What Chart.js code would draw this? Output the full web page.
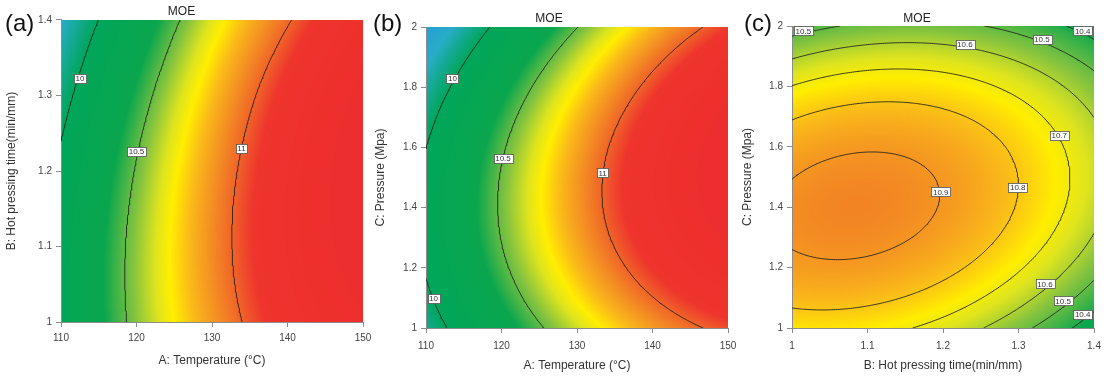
<!DOCTYPE html>
<html>
<head>
<meta charset="utf-8">
<script src="https://cdn.jsdelivr.net/npm/chart.js@4.4.1/dist/chart.umd.min.js"></script>
<style>
  body { margin: 0; background: #fff; }
  #wrap { position: relative; width: 1109px; height: 376px; }
  canvas { position: absolute; top: 0; }
</style>
</head>
<body>
<div id="wrap">
  <canvas id="chartA" width="380" height="376" style="left:0px"></canvas>
  <canvas id="chartB" width="370" height="376" style="left:370px"></canvas>
  <canvas id="chartC" width="369" height="376" style="left:740px"></canvas>
</div>
<script>
// axis ticks
var tempTicks = [110, 120, 130, 140, 150];
var timeTicks = [1, 1.1, 1.2, 1.3, 1.4];
var pressTicks = [1, 1.2, 1.4, 1.6, 1.8, 2];

var tempNodes = [110, 120, 130, 140, 150];
var timeNodes = [1.0, 1.1, 1.2, 1.3, 1.4];
var pressNodes = [1.0, 1.25, 1.5, 1.75, 2.0];

// (a) rows = hot pressing time (1.0 -> 1.4), cols = temperature
var moeA = [
  [10.120, 10.550, 10.889, 11.139, 11.298],
  [10.110, 10.560, 10.920, 11.190, 11.369],
  [10.043, 10.513, 10.893, 11.183, 11.383],
  [9.918, 10.408, 10.809, 11.119, 11.339],
  [9.736, 10.247, 10.667, 10.985, 11.230]
];
// (b) rows = pressure (1.0 -> 2.0), cols = temperature
var moeB = [
  [9.872, 10.299, 10.637, 10.884, 11.042],
  [10.038, 10.487, 10.846, 11.115, 11.293],
  [10.042, 10.512, 10.892, 11.182, 11.382],
  [9.883, 10.374, 10.775, 11.086, 11.308],
  [9.560, 10.073, 10.495, 10.828, 11.070]
];
// (c) rows = pressure (1.0 -> 2.0), cols = hot pressing time
var moeC = [
  [10.745, 10.735, 10.664, 10.531, 10.338],
  [10.897, 10.905, 10.853, 10.740, 10.566],
  [10.898, 10.926, 10.893, 10.799, 10.644],
  [10.750, 10.797, 10.783, 10.708, 10.572],
  [10.451, 10.517, 10.523, 10.467, 10.350]
];

var levelsA = [10, 10.5, 11];
var levelsB = [10, 10.5, 11];
var levelsC = [10.4, 10.5, 10.6, 10.7, 10.8, 10.9];

var labelXA = [112.5, 120.0, 133.9];
var labelYA = [1.323, 1.226, 1.23];
var labelTextA = ['10', '10.5', '11'];

var labelXB = [113.5, 120.2, 133.4, 111.0];
var labelYB = [1.829, 1.563, 1.515, 1.099];
var labelTextB = ['10', '10.5', '11', '10'];

var labelXC = [1.015, 1.229, 1.331, 1.385, 1.354, 1.197, 1.299, 1.335, 1.359, 1.385];
var labelYC = [1.984, 1.939, 1.956, 1.984, 1.639, 1.451, 1.466, 1.146, 1.090, 1.046];
var labelTextC = ['10.5', '10.6', '10.5', '10.4', '10.7', '10.9', '10.8', '10.6', '10.5', '10.4'];

var FONT = "'Liberation Sans', Arial, sans-serif";

// blue - green - yellow - red palette
var heatStops = [
  [9.50, [35, 155, 220]],
  [9.75, [40, 172, 200]],
  [10.0, [0, 166, 90]],
  [10.38, [10, 166, 78]],
  [10.55, [135, 196, 62]],
  [10.66, [222, 228, 30]],
  [10.73, [255, 238, 0]],
  [10.82, [250, 186, 25]],
  [10.92, [243, 140, 35]],
  [11.0, [240, 100, 40]],
  [11.08, [238, 52, 45]],
  [11.5, [237, 42, 46]]
];

function colorAt(v) {
  if (v <= heatStops[0][0]) return heatStops[0][1];
  for (var i = 1; i < heatStops.length; i++) {
    if (v <= heatStops[i][0]) {
      var a = heatStops[i - 1], b = heatStops[i];
      var t = (v - a[0]) / (b[0] - a[0]);
      return [0, 1, 2].map(function (k) { return a[1][k] + (b[1][k] - a[1][k]) * t; });
    }
  }
  return heatStops[heatStops.length - 1][1];
}

// smooth surface through the grid (catmull-rom both ways)
function padRow(r) {
  var n = r.length;
  return [3 * r[0] - 3 * r[1] + r[2]].concat(r, [3 * r[n - 1] - 3 * r[n - 2] + r[n - 3]]);
}
function padGrid(g) {
  var rows = g.map(padRow);
  var n = rows.length;
  var first = rows[0].map(function (v, j) { return 3 * v - 3 * rows[1][j] + rows[2][j]; });
  var last = rows[n - 1].map(function (v, j) { return 3 * v - 3 * rows[n - 2][j] + rows[n - 3][j]; });
  return [first].concat(rows, [last]);
}
function cr(p0, p1, p2, p3, t) {
  return 0.5 * (2 * p1 + (p2 - p0) * t + (2 * p0 - 5 * p1 + 4 * p2 - p3) * t * t +
    (3 * p1 - p0 - 3 * p2 + p3) * t * t * t);
}
function makeSurface(xNodes, yNodes, grid) {
  var P = padGrid(grid);
  var nx = xNodes.length, ny = yNodes.length;
  var dx = xNodes[1] - xNodes[0], dy = yNodes[1] - yNodes[0];
  return function (x, y) {
    var u = (x - xNodes[0]) / dx, v = (y - yNodes[0]) / dy;
    var i = Math.min(Math.max(Math.floor(u), 0), nx - 2);
    var j = Math.min(Math.max(Math.floor(v), 0), ny - 2);
    var t = u - i, s = v - j;
    var col = [];
    for (var k = 0; k < 4; k++) {
      var row = P[j + k];
      col.push(cr(row[i], row[i + 1], row[i + 2], row[i + 3], t));
    }
    return cr(col[0], col[1], col[2], col[3], s);
  };
}

// marching squares, chained into polylines
function contourLines(f, xr, yr, level, N) {
  var gx = [], gy = [], v = [], i, j;
  for (i = 0; i <= N; i++) {
    gx.push(xr[0] + (xr[1] - xr[0]) * i / N);
    gy.push(yr[0] + (yr[1] - yr[0]) * i / N);
  }
  for (j = 0; j <= N; j++) {
    v.push([]);
    for (i = 0; i <= N; i++) v[j].push(f(gx[i], gy[j]));
  }
  var pts = {}, adj = {};
  function edgePt(key, xa, ya, va, xb, yb, vb) {
    if (!pts[key]) {
      var t = (level - va) / (vb - va);
      pts[key] = { x: xa + (xb - xa) * t, y: ya + (yb - ya) * t };
    }
    return key;
  }
  function link(a, b) {
    (adj[a] = adj[a] || []).push(b);
    (adj[b] = adj[b] || []).push(a);
  }
  for (j = 0; j < N; j++) {
    for (i = 0; i < N; i++) {
      var v00 = v[j][i], v10 = v[j][i + 1], v01 = v[j + 1][i], v11 = v[j + 1][i + 1];
      var e = [];
      if ((v00 >= level) !== (v10 >= level)) e.push(edgePt('h' + i + '_' + j, gx[i], gy[j], v00, gx[i + 1], gy[j], v10));
      if ((v10 >= level) !== (v11 >= level)) e.push(edgePt('v' + (i + 1) + '_' + j, gx[i + 1], gy[j], v10, gx[i + 1], gy[j + 1], v11));
      if ((v01 >= level) !== (v11 >= level)) e.push(edgePt('h' + i + '_' + (j + 1), gx[i], gy[j + 1], v01, gx[i + 1], gy[j + 1], v11));
      if ((v00 >= level) !== (v01 >= level)) e.push(edgePt('v' + i + '_' + j, gx[i], gy[j], v00, gx[i], gy[j + 1], v01));
      if (e.length === 2) link(e[0], e[1]);
      else if (e.length === 4) { link(e[0], e[1]); link(e[2], e[3]); }
    }
  }
  var seen = {}, lines = [];
  function walk(s) {
    var line = [pts[s]], cur = s;
    seen[s] = true;
    for (;;) {
      var nb = (adj[cur] || []).filter(function (k) { return !seen[k]; });
      if (!nb.length) break;
      cur = nb[0];
      seen[cur] = true;
      line.push(pts[cur]);
    }
    if (line.length > 2 && adj[cur].indexOf(s) >= 0) line.push(pts[s]);
    return line;
  }
  Object.keys(adj).forEach(function (k) { if (!seen[k] && adj[k].length === 1) lines.push(walk(k)); });
  Object.keys(adj).forEach(function (k) { if (!seen[k]) lines.push(walk(k)); });
  return lines;
}

function makePanel(id, p) {
  var canvas = document.getElementById(id);
  var W = canvas.width, H = canvas.height;
  var surf = makeSurface(p.xNodes, p.yNodes, p.grid);

  var lineData = [];
  p.levels.forEach(function (lv) {
    contourLines(surf, [p.xMin, p.xMax], [p.yMin, p.yMax], lv, 160).forEach(function (line) {
      line.forEach(function (pt) { lineData.push({ x: pt.x, y: pt.y }); });
      lineData.push({ x: null, y: null });
    });
  });

  var heat = {
    id: 'heat',
    beforeDraw: function (chart) {
      var a = chart.chartArea, xs = chart.scales.x, ys = chart.scales.y;
      var w = Math.round(a.right - a.left), h = Math.round(a.bottom - a.top);
      var off = document.createElement('canvas');
      off.width = w; off.height = h;
      var octx = off.getContext('2d');
      var img = octx.createImageData(w, h);
      for (var py = 0; py < h; py++) {
        var y = ys.getValueForPixel(a.top + py + 0.5);
        for (var px = 0; px < w; px++) {
          var x = xs.getValueForPixel(a.left + px + 0.5);
          var c = colorAt(surf(x, y));
          var o = (py * w + px) * 4;
          img.data[o] = c[0]; img.data[o + 1] = c[1]; img.data[o + 2] = c[2]; img.data[o + 3] = 255;
        }
      }
      octx.putImageData(img, 0, 0);
      chart.ctx.drawImage(off, a.left, a.top);
    }
  };

  var tags = {
    id: 'tags',
    afterDatasetsDraw: function (chart) {
      var ctx = chart.ctx, xs = chart.scales.x, ys = chart.scales.y;
      ctx.save();
      ctx.font = '8px ' + FONT;
      ctx.textAlign = 'center';
      ctx.textBaseline = 'middle';
      for (var i = 0; i < p.labelText.length; i++) {
        var x = xs.getPixelForValue(p.labelX[i]), y = ys.getPixelForValue(p.labelY[i]);
        var tw = ctx.measureText(p.labelText[i]).width + 3;
        ctx.fillStyle = '#fff';
        ctx.fillRect(Math.round(x - tw / 2) + 0.5, Math.round(y - 4.5) + 0.5, Math.round(tw), 9);
        ctx.strokeStyle = '#555';
        ctx.lineWidth = 0.8;
        ctx.strokeRect(Math.round(x - tw / 2) + 0.5, Math.round(y - 4.5) + 0.5, Math.round(tw), 9);
        ctx.fillStyle = '#333';
        ctx.fillText(p.labelText[i], x, y + 0.5);
      }
      ctx.restore();
    },
    afterDraw: function (chart) {
      var ctx = chart.ctx;
      ctx.save();
      ctx.font = '24px ' + FONT;
      ctx.fillStyle = '#111';
      ctx.textBaseline = 'middle';
      ctx.fillText(p.tag, p.tagX, 24);
      ctx.restore();
    }
  };

  var axisColor = '#8c8c8c';
  return new Chart(canvas, {
    type: 'scatter',
    data: {
      datasets: [{
        data: lineData,
        showLine: true,
        spanGaps: false,
        pointRadius: 0,
        borderColor: 'rgba(30,30,30,0.85)',
        borderWidth: 1,
        tension: 0
      }]
    },
    options: {
      responsive: false,
      animation: false,
      events: [],
      layout: { padding: { left: 0, top: 0, bottom: 0, right: W - p.area.right } },
      plugins: {
        legend: { display: false },
        tooltip: { enabled: false },
        title: {
          display: true,
          text: 'MOE',
          color: '#222',
          font: { family: FONT, size: 12, weight: 'normal' },
          padding: { top: p.titleTop, bottom: p.area.top - p.titleTop - 14.4 }
        }
      },
      scales: {
        x: {
          type: 'linear',
          min: p.xMin,
          max: p.xMax,
          afterBuildTicks: function (s) { s.ticks = p.xTicks.map(function (v) { return { value: v }; }); },
          afterFit: function (s) { s.height = H - p.area.bottom; s.paddingLeft = 0; s.paddingRight = 0; },
          ticks: {
            color: '#444',
            font: { family: FONT, size: 10 },
            padding: p.xTickPad,
            maxRotation: 0,
            callback: function (v) { return String(Math.round(v * 100) / 100); }
          },
          grid: { display: true, drawOnChartArea: false, drawTicks: true, tickLength: 5, color: axisColor },
          border: { display: true, color: axisColor },
          title: {
            display: true,
            text: p.xTitle,
            color: '#333',
            font: { family: FONT, size: 12 },
            padding: { top: 0, bottom: p.xTitleBottom }
          }
        },
        y: {
          type: 'linear',
          min: p.yMin,
          max: p.yMax,
          afterBuildTicks: function (s) { s.ticks = p.yTicks.map(function (v) { return { value: v }; }); },
          afterFit: function (s) { s.width = p.area.left; s.paddingTop = 0; s.paddingBottom = 0; },
          ticks: {
            color: '#444',
            font: { family: FONT, size: 10 },
            padding: 4,
            callback: function (v) { return String(Math.round(v * 100) / 100); }
          },
          grid: { display: true, drawOnChartArea: false, drawTicks: true, tickLength: 5, color: axisColor },
          border: { display: true, color: axisColor },
          title: {
            display: true,
            text: p.yTitle,
            color: '#333',
            font: { family: FONT, size: 12 },
            padding: { top: p.yTitleTop, bottom: 0 }
          }
        }
      }
    },
    plugins: [heat, tags]
  });
}

makePanel('chartA', {
  xNodes: tempNodes, yNodes: timeNodes, grid: moeA, levels: levelsA,
  xMin: 110, xMax: 150, yMin: 1, yMax: 1.4, xTicks: tempTicks, yTicks: timeTicks,
  xTitle: 'A: Temperature (°C)', yTitle: 'B: Hot pressing time(min/mm)',
  labelX: labelXA, labelY: labelYA, labelText: labelTextA,
  area: { left: 61, right: 363, top: 20, bottom: 322 },
  titleTop: 4.3, xTickPad: 5, xTitleBottom: 8, yTitleTop: 4.3, tag: '(a)', tagX: 5
});
makePanel('chartB', {
  xNodes: tempNodes, yNodes: pressNodes, grid: moeB, levels: levelsB,
  xMin: 110, xMax: 150, yMin: 1, yMax: 2, xTicks: tempTicks, yTicks: pressTicks,
  xTitle: 'A: Temperature (°C)', yTitle: 'C: Pressure (Mpa)',
  labelX: labelXB, labelY: labelYB, labelText: labelTextB,
  area: { left: 56, right: 358, top: 27, bottom: 328 },
  titleTop: 11.6, xTickPad: 7, xTitleBottom: 3, yTitleTop: 3.8, tag: '(b)', tagX: 3
});
makePanel('chartC', {
  xNodes: timeNodes, yNodes: pressNodes, grid: moeC, levels: levelsC,
  xMin: 1, xMax: 1.4, yMin: 1, yMax: 2, xTicks: timeTicks, yTicks: pressTicks,
  xTitle: 'B: Hot pressing time(min/mm)', yTitle: 'C: Pressure (Mpa)',
  labelX: labelXC, labelY: labelYC, labelText: labelTextC,
  area: { left: 52, right: 354, top: 26, bottom: 328 },
  titleTop: 11.1, xTickPad: 7, xTitleBottom: 3, yTitleTop: 0.8, tag: '(c)', tagX: 4
});
</script>
</body>
</html>
